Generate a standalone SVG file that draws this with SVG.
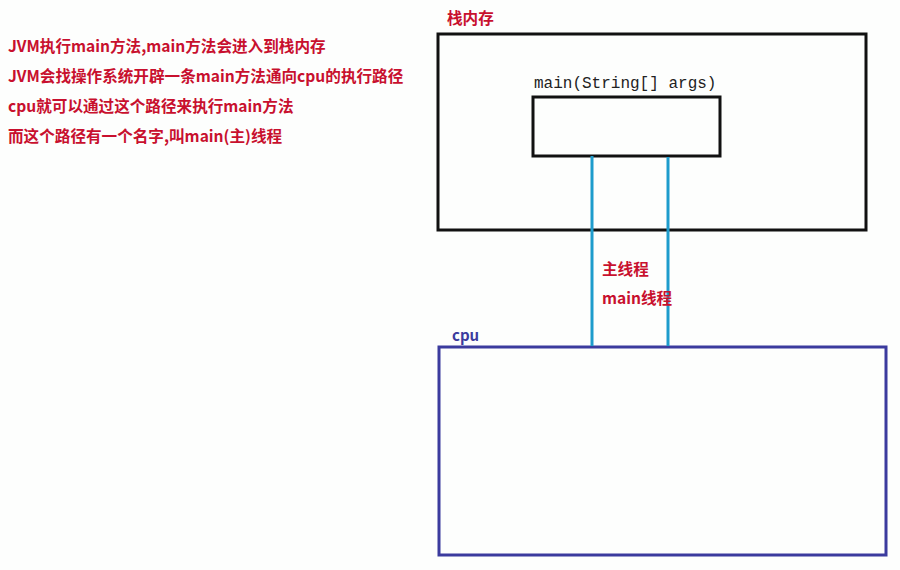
<svg xmlns="http://www.w3.org/2000/svg" width="900" height="570" viewBox="0 0 900 570">
<style>
.note{font-family:"Noto Sans CJK SC","Liberation Sans",sans-serif;font-weight:bold;font-size:15.6px;fill:#c8102e}
.box{fill:none;stroke:#111;stroke-width:3}
.code{font-family:"Liberation Mono",monospace;font-size:16px;fill:#222}
.thread{stroke:#1e9ccc;stroke-width:3;fill:none}
</style>
<rect width="900" height="570" fill="#fdfefd"/>
<g id="notes">
<text class="note" x="8" y="52">JVM执行main方法,main方法会进入到栈内存</text>
<text class="note" x="8" y="82">JVM会找操作系统开辟一条main方法通向cpu的执行路径</text>
<text class="note" x="8" y="112">cpu就可以通过这个路径来执行main方法</text>
<text class="note" x="8" y="142">而这个路径有一个名字,叫main(主)线程</text>
</g>
<g id="stack">
<text class="note" x="447" y="24">栈内存</text>
<rect class="box" x="438" y="34" width="428" height="196"/>
</g>
<g id="main-frame">
<text class="code" x="534" y="88">main(String[] args)</text>
<rect class="box" x="533" y="97" width="187" height="59"/>
</g>
<g id="cpu">
<text x="452" y="341" font-family="Noto Sans CJK SC,Liberation Sans,sans-serif" font-weight="bold" font-size="15" fill="#3b3b9e">cpu</text>
<rect x="439" y="347" width="447" height="208" fill="none" stroke="#3b3b9e" stroke-width="3"/>
</g>
<g id="connectors">
<line class="thread" x1="592" y1="156" x2="592" y2="346"/>
<line class="thread" x1="668" y1="157" x2="668" y2="346"/>
<text class="note" x="602" y="275">主线程</text>
<text class="note" x="602" y="304">main线程</text>
</g>
</svg>
